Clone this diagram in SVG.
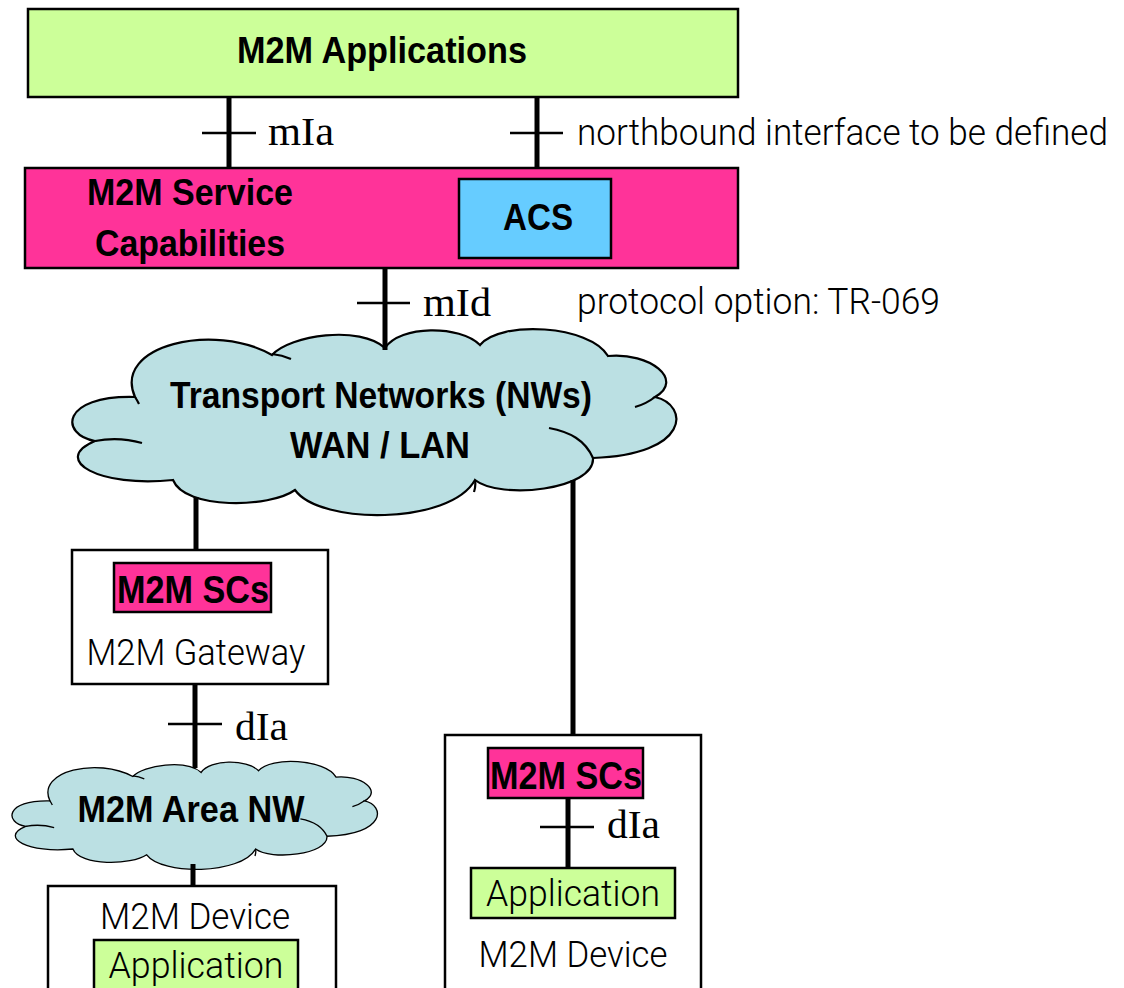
<svg xmlns="http://www.w3.org/2000/svg" width="1124" height="988" viewBox="0 0 1124 988">
<defs>
<style>
.box{stroke:#000;stroke-width:2.5}
.green{fill:#ccff99}
.pink{fill:#ff3399}
.blue{fill:#66ccff}
.white{fill:#fff}
.cloud{fill:#bbe0e3;stroke:#000;stroke-width:2.2;vector-effect:non-scaling-stroke}
.crease{fill:none;stroke:#000;stroke-width:2.2;vector-effect:non-scaling-stroke}
.wire{stroke:#000;stroke-width:5;fill:none}
.tick{stroke:#000;stroke-width:2.5}
.b{font-family:"Liberation Sans",Arial,sans-serif;font-weight:bold;fill:#000}
.l{font-family:Roboto,"Liberation Sans",Arial,sans-serif;font-weight:300;fill:#000}
.s{font-family:"Liberation Serif","Times New Roman",serif;fill:#000}
</style>
<path id="cloudShape" d="M135,397 C112,345 215,322 272,355 C290,335 360,325 385,348 C400,325 460,325 480,345 C500,320 590,325 608,356 C650,352 685,380 655,397 C690,405 690,455 593,458 C595,490 500,500 475,480 C450,525 320,525 295,490 C270,508 185,510 173,480 C100,488 50,460 95,441 C60,435 60,395 135,397 Z"/>
<path id="cloudCrease" d="M272,354 Q282,355 291,359 M95,441 C110,438 128,439 142,443 M655,397 Q646,404 635,407 M593,458 C585,440 570,432 549,428 M475,480 Q476,486 474,492 M135,397 Q137,400 139,404"/>
</defs>

<g id="m2m-applications">
<rect class="box green" x="28" y="9" width="710" height="88"/>
<text class="b" x="382" y="63" font-size="37" text-anchor="middle" textLength="290" lengthAdjust="spacingAndGlyphs">M2M Applications</text>
</g>

<g id="m2m-service-capabilities">
<rect class="box pink" x="25" y="168" width="713" height="100"/>
<text class="b" x="190" y="205" font-size="36" text-anchor="middle" textLength="206" lengthAdjust="spacingAndGlyphs">M2M Service</text>
<text class="b" x="190" y="256" font-size="36" text-anchor="middle" textLength="190" lengthAdjust="spacingAndGlyphs">Capabilities</text>
</g>

<g id="acs">
<rect class="box blue" x="459" y="179" width="152" height="79"/>
<text class="b" x="538" y="230" font-size="37" text-anchor="middle" textLength="70" lengthAdjust="spacingAndGlyphs">ACS</text>
</g>

<g id="transport-networks">
<use href="#cloudShape" class="cloud"/>
<use href="#cloudCrease" class="crease"/>
<text class="b" x="381" y="408" font-size="36" text-anchor="middle" textLength="422" lengthAdjust="spacingAndGlyphs">Transport Networks (NWs)</text>
<text class="b" x="380" y="458" font-size="36" text-anchor="middle" textLength="180" lengthAdjust="spacingAndGlyphs">WAN / LAN</text>
</g>

<g id="m2m-gateway">
<rect class="box white" x="72" y="550" width="256" height="134"/>
<rect class="box pink" x="114" y="563" width="157" height="49"/>
<text class="b" x="193" y="603" font-size="39" text-anchor="middle" textLength="152" lengthAdjust="spacingAndGlyphs">M2M SCs</text>
<text class="l" x="196" y="665" font-size="37" text-anchor="middle" textLength="219" lengthAdjust="spacingAndGlyphs">M2M Gateway</text>
</g>

<g id="m2m-area-nw">
<g transform="translate(13,762) scale(0.605,0.58) translate(-74,-330)">
<use href="#cloudShape" class="cloud"/>
<use href="#cloudCrease" class="crease"/>
</g>
<text class="b" x="191" y="822" font-size="37" text-anchor="middle" textLength="227" lengthAdjust="spacingAndGlyphs">M2M Area NW</text>
</g>

<g id="m2m-device-left">
<rect class="box white" x="48" y="886" width="288" height="110"/>
<text class="l" x="195" y="929" font-size="36" text-anchor="middle" textLength="190" lengthAdjust="spacingAndGlyphs">M2M Device</text>
<rect class="box green" x="94" y="940" width="204" height="60"/>
<text class="l" x="196" y="978" font-size="37" text-anchor="middle" textLength="175" lengthAdjust="spacingAndGlyphs">Application</text>
</g>

<g id="m2m-device-right">
<rect class="box white" x="445" y="735" width="256" height="262"/>
<rect class="box pink" x="488" y="748" width="155" height="50"/>
<text class="b" x="566" y="789" font-size="39" text-anchor="middle" textLength="152" lengthAdjust="spacingAndGlyphs">M2M SCs</text>
<rect class="box green" x="471" y="868" width="204" height="50"/>
<text class="l" x="573" y="906" font-size="37" text-anchor="middle" textLength="174" lengthAdjust="spacingAndGlyphs">Application</text>
<text class="l" x="573" y="967" font-size="36" text-anchor="middle" textLength="189" lengthAdjust="spacingAndGlyphs">M2M Device</text>
</g>

<g id="connectors">
<line class="wire" x1="229" y1="97" x2="229" y2="168"/>
<line class="tick" x1="202" y1="133" x2="256" y2="133"/>
<text class="s" x="268" y="145" font-size="40" textLength="66" lengthAdjust="spacingAndGlyphs">mIa</text>

<line class="wire" x1="537" y1="98" x2="537" y2="168"/>
<line class="tick" x1="510" y1="133" x2="563" y2="133"/>
<text class="l" x="577" y="145" font-size="36" textLength="531" lengthAdjust="spacingAndGlyphs">northbound interface to be defined</text>

<line class="wire" x1="385" y1="268" x2="385" y2="350"/>
<line class="tick" x1="357" y1="303" x2="410" y2="303"/>
<text class="s" x="423" y="316" font-size="40" textLength="68" lengthAdjust="spacingAndGlyphs">mId</text>
<text class="l" x="577" y="314" font-size="36" textLength="363" lengthAdjust="spacingAndGlyphs">protocol option: TR-069</text>

<line class="wire" x1="196" y1="497" x2="196" y2="550"/>
<line class="wire" x1="573" y1="480" x2="573" y2="735"/>

<line class="wire" x1="195" y1="684" x2="195" y2="768"/>
<line class="tick" x1="168" y1="724" x2="222" y2="724"/>
<text class="s" x="235" y="740" font-size="40" textLength="53" lengthAdjust="spacingAndGlyphs">dIa</text>

<line class="wire" x1="193" y1="864" x2="193" y2="886"/>

<line class="wire" x1="568" y1="798" x2="568" y2="868"/>
<line class="tick" x1="540" y1="827" x2="594" y2="827"/>
<text class="s" x="607" y="838" font-size="40" textLength="53" lengthAdjust="spacingAndGlyphs">dIa</text>
</g>
</svg>
